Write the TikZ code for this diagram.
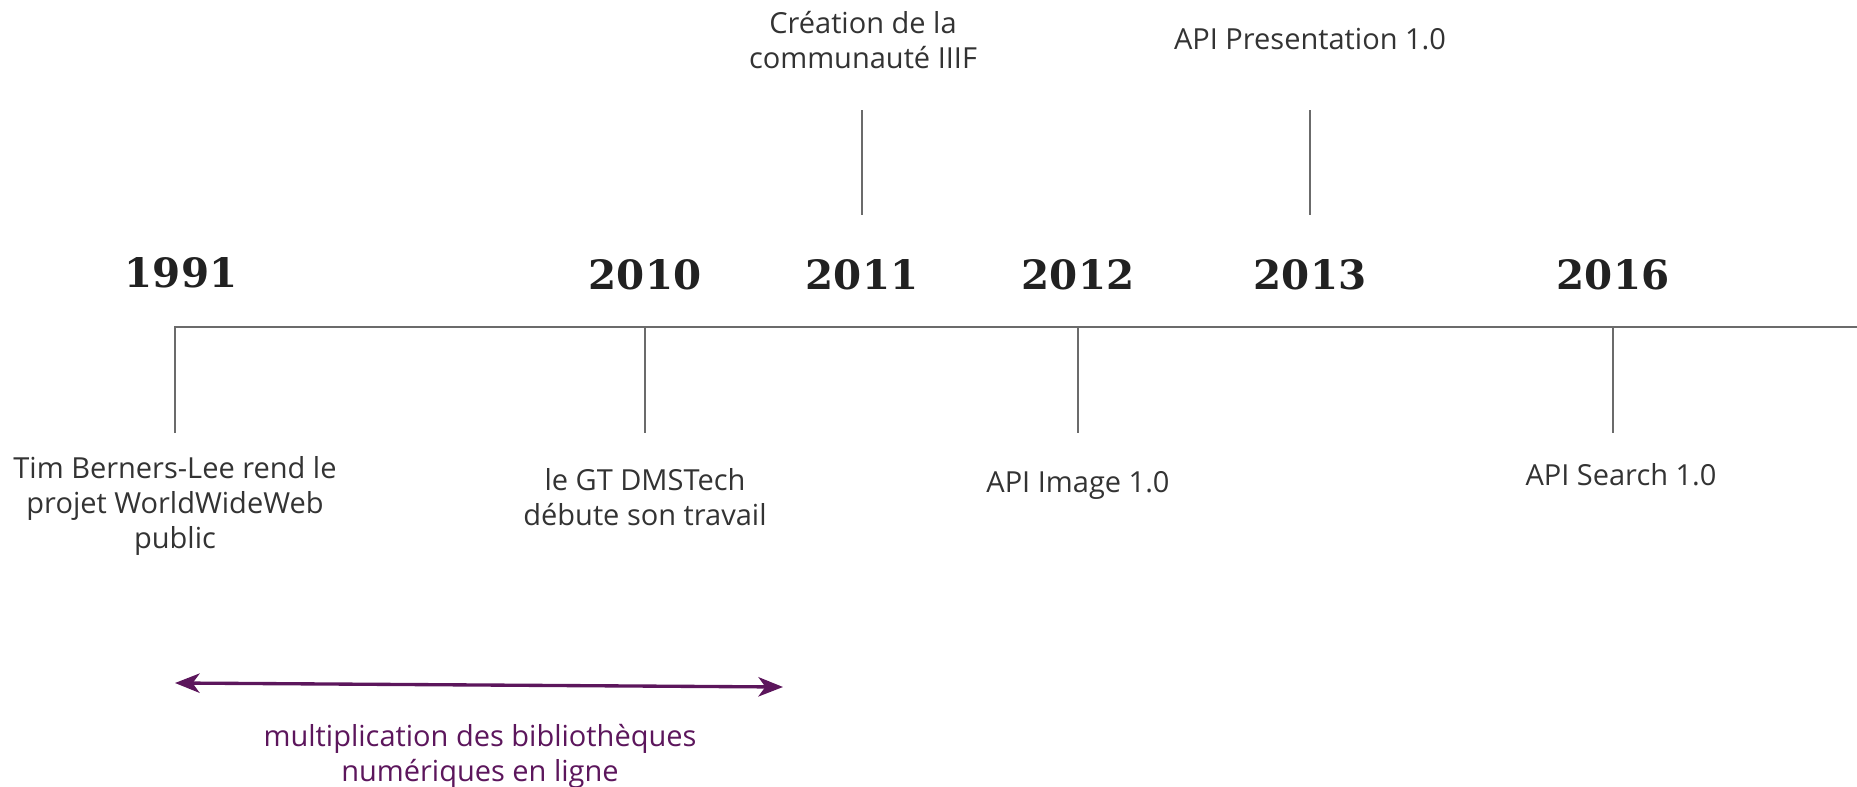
\documentclass[tikz,border=0pt]{standalone}
\usepackage{fontspec}
\setmainfont{Open Sans}
\newfontfamily\yearfont{DejaVu Serif}
\usepackage{tikz}
\usetikzlibrary{positioning}
\usetikzlibrary{arrows.meta}
\definecolor{axisgray}{HTML}{6B6B6B}
\definecolor{textgray}{HTML}{333333}
\definecolor{plum}{HTML}{5C165C}
\tikzset{x=0.02cm, y=-0.02cm,
year/.style={ % Sets the properties for each year
font=\yearfont\bfseries\fontsize{23}{26}\selectfont,
text=black!87,
inner sep=0pt,
anchor=base},
event/.style={ % Text below or above a tick
font=\fontsize{16.5}{20}\selectfont,
text=textgray,
align=center,
inner sep=0pt},
tick/.style={ % Thin gray strokes of the axis
draw=axisgray,
line width=1.1pt},
span/.style={ % The purple period arrow
draw=plum,
line width=1.9pt,
{Stealth[length=14pt,width=11pt,inset=4pt]}-{Stealth[length=14pt,width=11pt,inset=4pt]}}}

\begin{document}
\begin{tikzpicture}
\useasboundingbox (0,0) rectangle (1857,787);
% axis
\coordinate (a1991) at (175,327);
\coordinate (b1991) at (175,433);
\coordinate (aend) at (1857,327);
\coordinate (a2010) at (645,327);
\coordinate (b2010) at (645,433);
\coordinate (a2011) at (862,215);
\coordinate (b2011) at (862,110);
\coordinate (a2012) at (1078,327);
\coordinate (b2012) at (1078,433);
\coordinate (a2013) at (1310,215);
\coordinate (b2013) at (1310,110);
\coordinate (a2016) at (1613,327);
\coordinate (b2016) at (1613,433);
\draw[tick] (b1991) -- (a1991) -- (aend);
\draw[tick] (a2010) -- (b2010);
\draw[tick] (a2011) -- (b2011);
\draw[tick] (a2012) -- (b2012);
\draw[tick] (a2013) -- (b2013);
\draw[tick] (a2016) -- (b2016);
% years
\node[year] (y1991) at (181,288) {1991};
\node[year] (y2010) at (645,290) {2010};
\node[year] (y2011) at (862,290) {2011};
\node[year] (y2012) at (1078,290) {2012};
\node[year] (y2013) at (1310,290) {2013};
\node[year] (y2016) at (1613,290) {2016};
% events
\node[event] (ev1991) at (175,506) {Tim Berners-Lee rend le\\projet WorldWideWeb\\public};
\node[event] (ev2010) at (645,497) {le GT DMSTech\\débute son travail};
\node[event] (ev2011) at (863,40) {Création de la\\communauté IIIF};
\node[event, anchor=base] (ev2012) at (1078,492) {API Image 1.0};
\node[event, anchor=base] (ev2013) at (1310,50) {API Presentation 1.0};
\node[event, anchor=base] (ev2016) at (1621,485) {API Search 1.0};
% period
\coordinate (s1) at (175,683);
\coordinate (s2) at (783,687);
\draw[span] (s1) -- (s2);
\node[event, text=plum] (period) at (480,756) {multiplication des bibliothèques\\numériques en ligne};
\end{tikzpicture}
\end{document}
